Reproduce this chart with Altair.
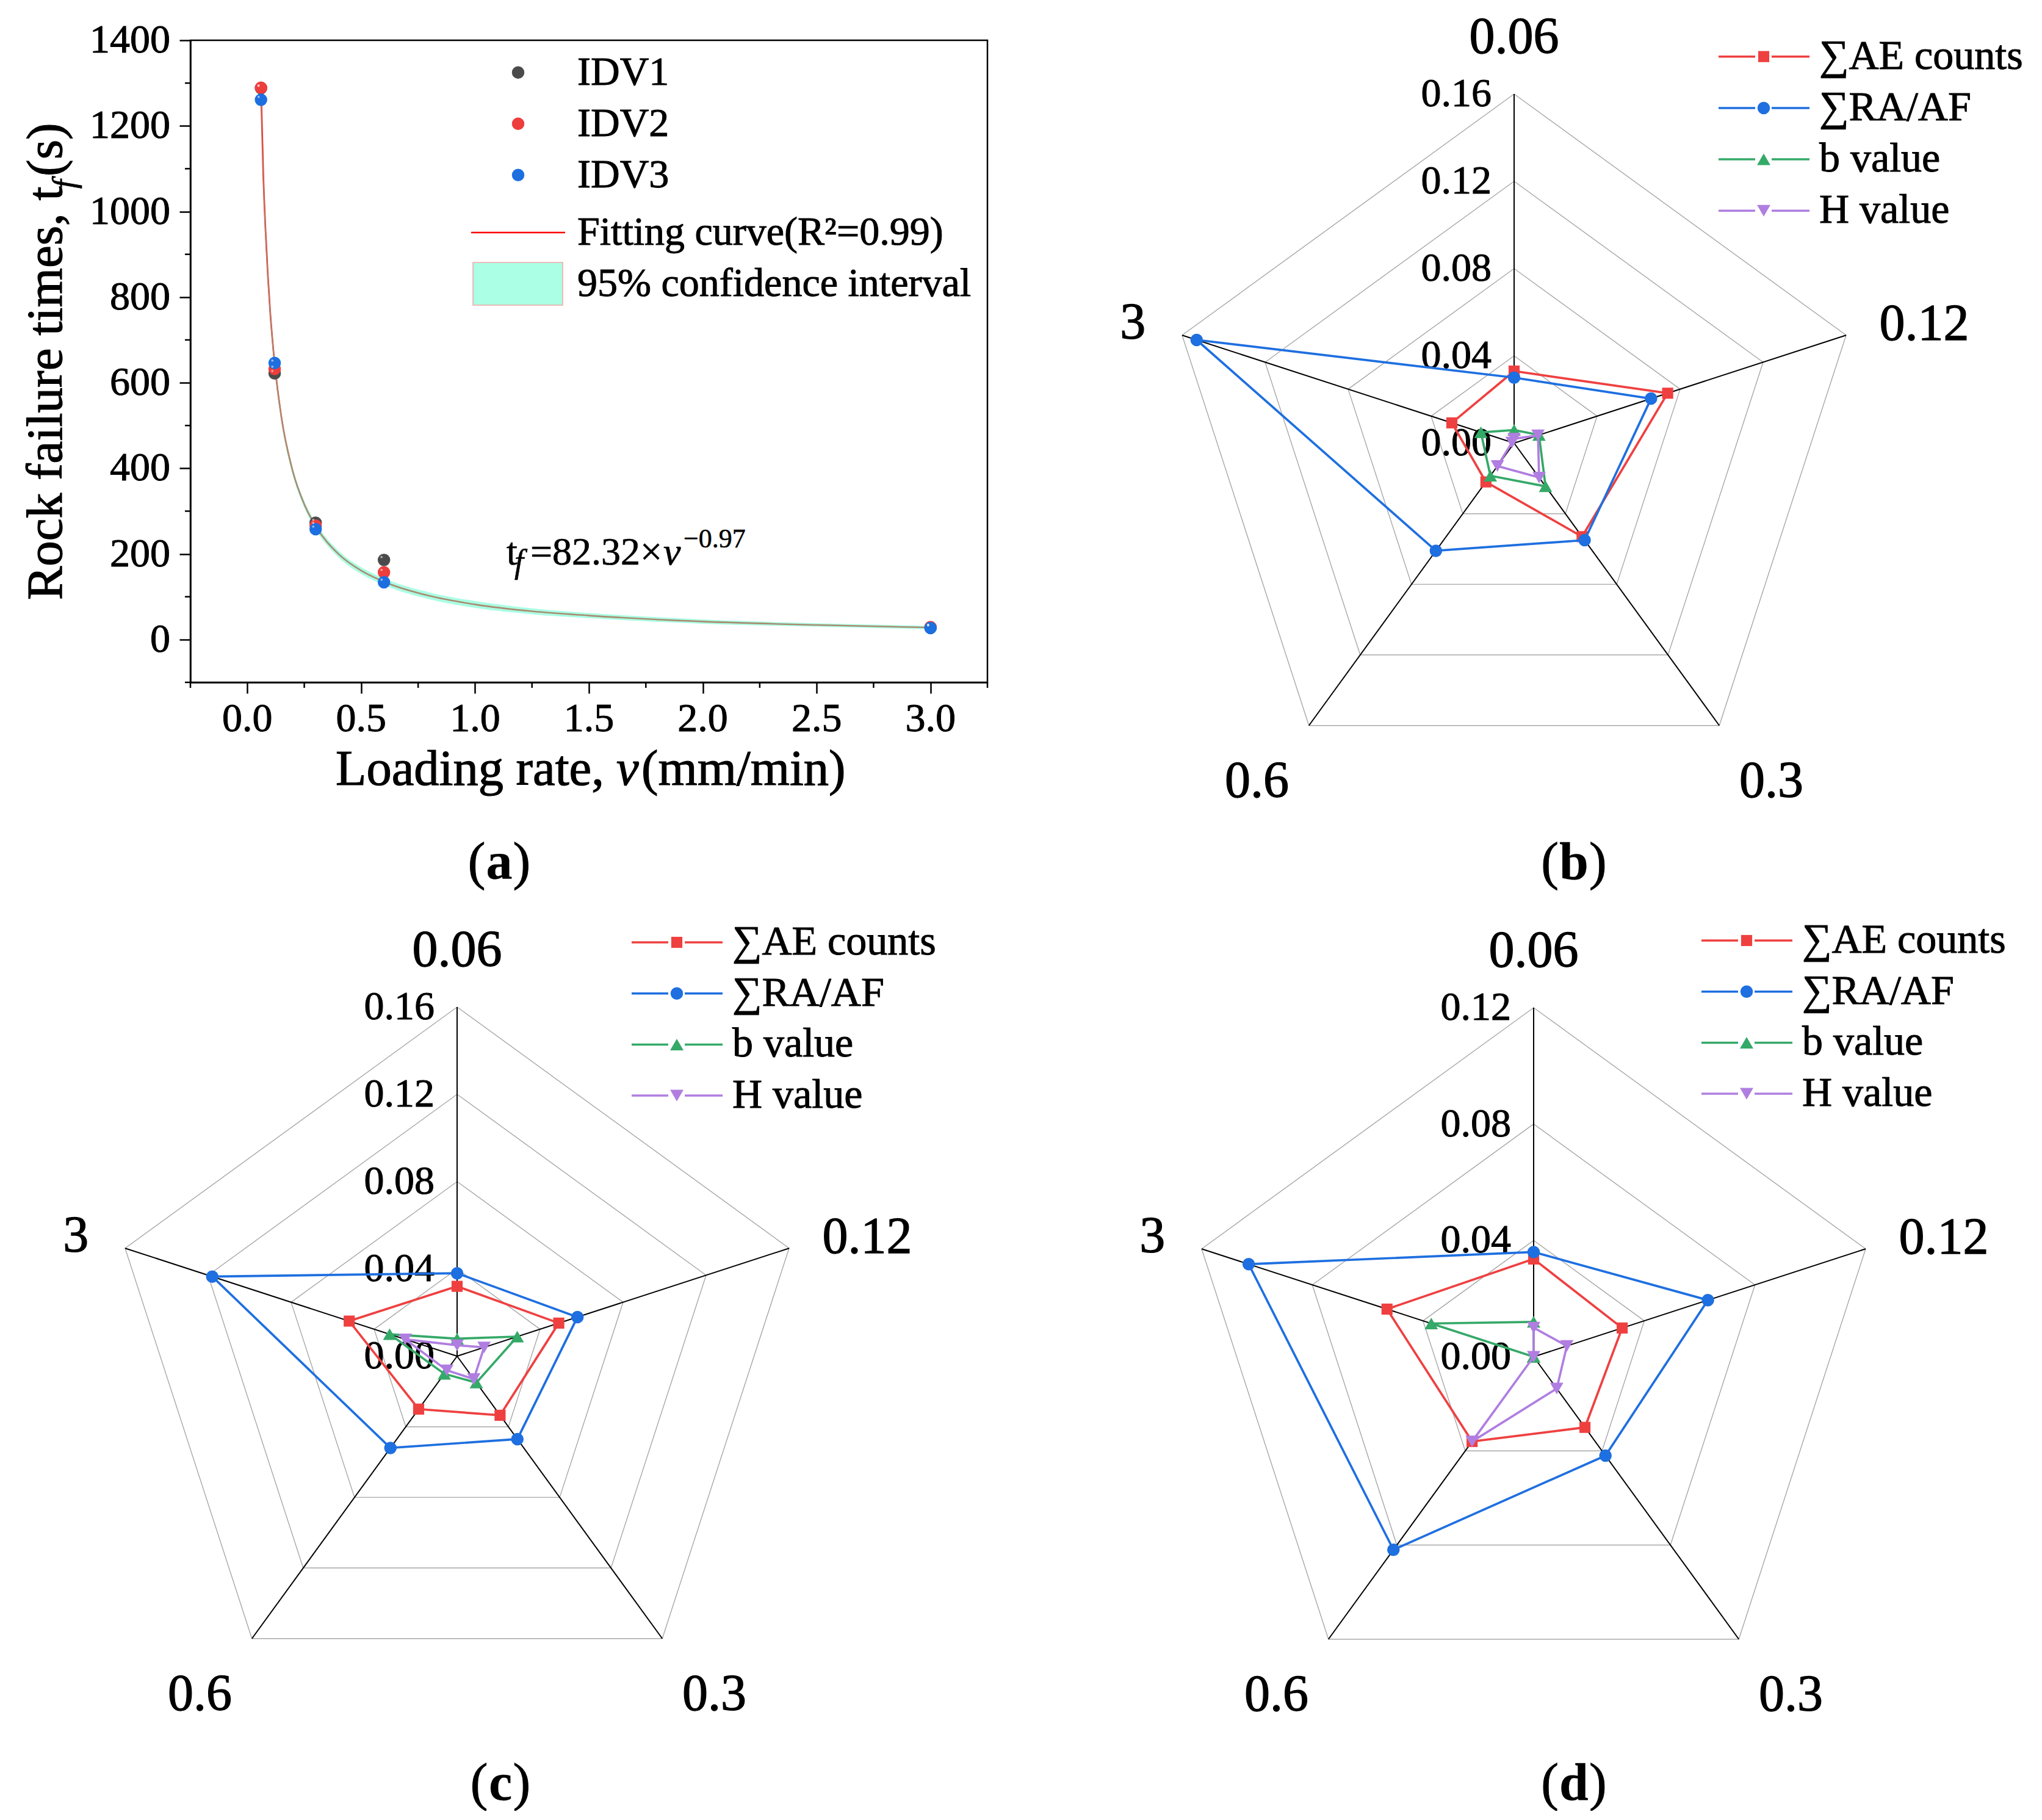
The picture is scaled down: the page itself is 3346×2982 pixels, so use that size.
import altair as alt
import pandas as pd

FONT = "Liberation Serif"

# ---------------- panel (a) data ----------------
loading_rate = [0.06, 0.12, 0.3, 0.6, 3.0]
idv1_time = [1288, 622, 273, 186, 28]
idv2_time = [1289, 632, 266, 157, 29]
idv3_time = [1261, 646, 258, 134, 27]
idv_names = ["IDV1", "IDV2", "IDV3"]
idv_colors = ["#4b4b4b", "#ee3d3d", "#1d6fe0"]

fit_rate = [0.06, 0.07, 0.08, 0.09, 0.10, 0.12, 0.15, 0.20, 0.25, 0.30,
            0.40, 0.50, 0.60, 0.80, 1.00, 1.25, 1.50, 2.00, 2.50, 3.00]
fit_time = [1285, 1086, 954, 851, 768, 644, 518, 392, 316, 265,
            200, 161, 135, 102, 82, 66, 56, 42, 34, 28]
ci_half = [40, 32, 26, 22, 19, 15, 12, 9, 8, 8, 8, 8, 8, 8, 8, 7, 6, 5, 4, 4]

x_major = [0.0, 0.5, 1.0, 1.5, 2.0, 2.5, 3.0]
x_minor = [-0.25, 0.25, 0.75, 1.25, 1.75, 2.25, 2.75, 3.25]
y_major = [0, 200, 400, 600, 800, 1000, 1200, 1400]
y_minor = [-100, 100, 300, 500, 700, 900, 1100, 1300]

# ---------------- radar data ----------------
categories = ["0.06", "0.12", "0.3", "0.6", "3"]
series_names = ["\u2211AE counts", "\u2211RA/AF", "b value", "H value"]
series_colors = ["#ef4040", "#1e6fe0", "#35a968", "#b07ee0"]
series_shapes = ["square", "circle", "triangle-up", "triangle-down"]
series_sizes = [330, 420, 480, 480]

b_ae = [0.033, 0.074, 0.053, 0.022, 0.030]
b_ra = [0.030, 0.066, 0.055, 0.061, 0.153]
b_bv = [0.006, 0.012, 0.0245, 0.0185, 0.016]
b_hv = [0.002, 0.0115, 0.0195, 0.013, 0.001]
b_ticks = [0.0, 0.04, 0.08, 0.12, 0.16]

c_ae = [0.032, 0.049, 0.0335, 0.030, 0.052]
c_ra = [0.038, 0.058, 0.047, 0.052, 0.118]
c_bv = [0.008, 0.029, 0.015, 0.010, 0.0325]
c_hv = [0.005, 0.013, 0.013, 0.008, 0.025]
c_ticks = [0.0, 0.04, 0.08, 0.12, 0.16]

d_ae = [0.0336, 0.032, 0.030, 0.036, 0.053]
d_ra = [0.036, 0.063, 0.042, 0.082, 0.103]
d_bv = [0.012, 0.0, 0.0, 0.0, 0.037]
d_hv = [0.010, 0.012, 0.0135, 0.036, 0.0]
d_ticks = [0.0, 0.04, 0.08, 0.12]

TEXT_STROKE = dict(stroke="black", strokeWidth=1.0)


def txt(s, x, y, size, sw=1.0, **kw):
    return alt.Chart(pd.DataFrame({"s": [s]})).mark_text(
        font=FONT, fontSize=size, color="black", stroke="black", strokeWidth=sw, **kw
    ).encode(text="s:N", x=alt.value(x), y=alt.value(y))


def letter_layers(letter, cx, by, w):
    return [
        txt("(", cx - w / 2, by, 86, sw=1.0, align="right", baseline="alphabetic"),
        txt(letter, cx, by, 86, sw=0.3, align="center", baseline="alphabetic", fontWeight="bold"),
        txt(")", cx + w / 2, by, 86, sw=1.0, align="left", baseline="alphabetic"),
    ]


# ---------------- panel (a) ----------------
WA, HA = 1306, 1052
XS = alt.Scale(domain=[-0.25, 3.25], nice=False, zero=False)
YS = alt.Scale(domain=[-100, 1400], nice=False, zero=False)
axis_style = dict(labels=False, tickColor="black", tickWidth=2.5, tickSize=18,
                  domainColor="black", domainWidth=2.5, grid=False, title=None)
XAX = alt.Axis(values=x_major, **axis_style)
YAX = alt.Axis(values=y_major, **axis_style)


def AX(f):
    return alt.X(f, type="quantitative", scale=XS, axis=XAX)


def AY(f):
    return alt.Y(f, type="quantitative", scale=YS, axis=YAX)


fit_df = pd.DataFrame({"v": fit_rate, "t": fit_time, "h": ci_half})
fit_line = alt.Chart(fit_df).mark_line(
    color="#ff0000", strokeWidth=2.6, interpolate="monotone"
).encode(x=AX("v"), y=AY("t"))
band = alt.Chart(fit_df).transform_calculate(
    lo="datum.t - datum.h", hi="datum.t + datum.h"
).mark_area(color="#64ffce", opacity=0.55, interpolate="monotone").encode(
    x=AX("v"), y=AY("lo"), y2=alt.Y2("hi:Q")
)

idv_rows = []
for name, times in zip(idv_names, [idv1_time, idv2_time, idv3_time]):
    for v, t in zip(loading_rate, times):
        idv_rows.append({"series": name, "v": v, "t": t})
pts_df = pd.DataFrame(idv_rows)
COL = alt.Color("series:N", scale=alt.Scale(domain=idv_names, range=idv_colors), legend=None)
pts = alt.Chart(pts_df).mark_circle(size=420, opacity=1).encode(x=AX("v"), y=AY("t"), color=COL)
shine = alt.Chart(pts_df).mark_text(
    text="\u25cf", fontSize=8, color="white", opacity=0.55, dx=-4, dy=-4
).encode(x=AX("v"), y=AY("t"))

xminor = alt.Chart(pd.DataFrame({"v": x_minor})).mark_rule(color="black", strokeWidth=2.5).encode(
    x=AX("v"), y=alt.value(HA), y2=alt.value(HA + 9))
yminor = alt.Chart(pd.DataFrame({"t": y_minor})).mark_rule(color="black", strokeWidth=2.5).encode(
    y=AY("t"), x=alt.value(0), x2=alt.value(-9))

# tick labels placed along the axes' scales
xlab = alt.Chart(pd.DataFrame({"v": x_major})).mark_text(
    font=FONT, fontSize=66, color="black", baseline="top", align="center", **TEXT_STROKE
).encode(x=AX("v"), y=alt.value(HA + 28), text=alt.Text("v:Q", format=".1f"))
ylab = alt.Chart(pd.DataFrame({"t": y_major})).mark_text(
    font=FONT, fontSize=66, color="black", baseline="middle", align="right", **TEXT_STROKE
).encode(y=AY("t"), x=alt.value(-33), text=alt.Text("t:Q", format="d"))

a_layers = [fit_line, band, xminor, yminor, xlab, ylab, pts, shine]

# legend of (a)
for k, name in enumerate(idv_names):
    yk = 52.7 + k * 84.0
    a_layers.append(
        alt.Chart(pd.DataFrame({"s": [name]})).mark_circle(
            size=420, opacity=1, color=idv_colors[k]
        ).encode(x=alt.value(537), y=alt.value(yk)))
    a_layers.append(txt(name, 634, yk, 66, align="left", baseline="middle"))
a_layers.append(
    alt.Chart(pd.DataFrame({"s": ["fit"]})).mark_rule(color="#ff0000", strokeWidth=2.6).encode(
        x=alt.value(460), x2=alt.value(614), y=alt.value(315)))
a_layers.append(txt("Fitting curve(R\u00b2=0.99)", 634, 315, 66, align="left", baseline="middle"))
a_layers.append(
    alt.Chart(pd.DataFrame({"s": ["ci"]})).mark_rect(
        fill="#aaffe4", stroke="#f2a6a6", strokeWidth=1.5
    ).encode(x=alt.value(463), x2=alt.value(610), y=alt.value(364), y2=alt.value(434)))
a_layers.append(txt("95% confidence interval", 634, 399, 66, align="left", baseline="middle"))

# equation
a_layers += [
    txt("t", 518, 859, 64, sw=0.7, align="left", baseline="alphabetic"),
    txt("f", 531, 872, 54, sw=0.6, align="left", baseline="alphabetic", fontStyle="italic"),
    txt("=82.32\u00d7", 557, 859, 64, sw=0.7, align="left", baseline="alphabetic"),
    txt("v", 775, 859, 64, sw=0.7, align="left", baseline="alphabetic", fontStyle="italic"),
    txt("\u22120.97", 808, 831, 44, sw=0.5, align="left", baseline="alphabetic"),
]

# axis titles
a_layers += [
    txt("Rock failure times, t", -211, 917, 83, sw=1.2, angle=270, align="left",
        baseline="alphabetic"),
    txt("f", -211, 917, 52, sw=0.8, angle=270, align="left", baseline="alphabetic", dx=674,
        dy=22, fontStyle="italic"),
    txt("(s)", -211, 917, 83, sw=1.2, angle=270, align="left", baseline="alphabetic", dx=694),
    txt("Loading rate, ", 238, 1220, 82.5, sw=1.2, align="left", baseline="alphabetic"),
    txt("v", 238, 1220, 82.5, sw=1.2, align="left", baseline="alphabetic", dx=460,
        fontStyle="italic"),
    txt("(mm/min)", 238, 1220, 82.5, sw=1.2, align="left", baseline="alphabetic", dx=501),
]
a_layers += letter_layers("a", 506, 1374, 45)

A = alt.layer(*a_layers).properties(
    width=WA, height=HA, view=alt.ViewBackground(stroke="black", strokeWidth=2.5)
)

# ---------------- radar panels ----------------
R = 572.0


def radar(vals, rmax, ticks, W, H, cx, cy, lx0, ly0, lsp, letter, lw, lab_x, lab_y):
    xs = alt.Scale(domain=[-cx / R, (W - cx) / R], nice=False, zero=False)
    ys = alt.Scale(domain=[-(H - cy) / R, cy / R], nice=False, zero=False)

    def X(f):
        return alt.X(f, type="quantitative", scale=xs, axis=None)

    def Y(f):
        return alt.Y(f, type="quantitative", scale=ys, axis=None)

    ANG = "(datum.idx * 2 * PI / 5)"
    layers = []
    ring_df = pd.DataFrame([{"level": t, "idx": i} for t in ticks[1:] for i in range(6)])
    layers.append(
        alt.Chart(ring_df).transform_calculate(
            px=f"datum.level / {rmax} * sin{ANG}", py=f"datum.level / {rmax} * cos{ANG}"
        ).mark_line(color="#a8a8a8", strokeWidth=1.4).encode(
            x=X("px"), y=Y("py"), detail="level:N", order=alt.Order("idx:Q")))
    spoke_df = pd.DataFrame({"idx": list(range(5))})
    layers.append(
        alt.Chart(spoke_df).transform_calculate(
            px=f"sin{ANG}", py=f"cos{ANG}", zero="0"
        ).mark_rule(color="black", strokeWidth=2).encode(
            x=X("zero"), x2=alt.X2("px:Q"), y=Y("zero"), y2=alt.Y2("py:Q")))
    tick_df = pd.DataFrame({"tick": ticks})
    layers.append(
        alt.Chart(tick_df).transform_calculate(
            py=f"datum.tick / {rmax}", zero="0"
        ).mark_text(font=FONT, fontSize=66, align="right", baseline="middle", dx=-37,
                    color="black", **TEXT_STROKE).encode(
            x=X("zero"), y=Y("py"), text=alt.Text("tick:Q", format=".2f")))

    for k in range(len(series_names)):
        df = pd.DataFrame({"idx": list(range(6)), "value": vals[k] + vals[k][:1]})
        base = alt.Chart(df).transform_calculate(
            px=f"datum.value / {rmax} * sin{ANG}", py=f"datum.value / {rmax} * cos{ANG}")
        layers.append(base.mark_line(color=series_colors[k], strokeWidth=3.7).encode(
            x=X("px"), y=Y("py"), order=alt.Order("idx:Q")))
        layers.append(base.transform_filter("datum.idx < 5").mark_point(
            filled=True, shape=series_shapes[k], size=series_sizes[k], color=series_colors[k],
            opacity=1, strokeWidth=0).encode(x=X("px"), y=Y("py")))

    cat_df = pd.DataFrame({"cat": categories, "idx": list(range(5))})

    def cat_layer(filt, r, xf, align):
        return alt.Chart(cat_df).transform_filter(filt).transform_calculate(
            px=f"{r} * {xf} * sin{ANG}", py=f"{r} * cos{ANG}"
        ).mark_text(font=FONT, fontSize=84, align=align, baseline="middle",
                    color="black", stroke="black", strokeWidth=1.3).encode(
            x=X("px"), y=Y("py"), text="cat:N")

    layers += [
        cat_layer("datum.idx == 0", 1.16, 1, "center"),
        cat_layer("datum.idx == 1", 1.10, 1, "left"),
        cat_layer("datum.idx == 4", 1.11, 1, "right"),
        cat_layer("datum.idx == 2 || datum.idx == 3", 1.2, 1.045, "center"),
    ]

    for k, name in enumerate(series_names):
        yk = ly0 + k * lsp
        one = alt.Chart(pd.DataFrame({"s": [name]}))
        layers.append(one.mark_rule(color=series_colors[k], strokeWidth=3.5).encode(
            x=alt.value(lx0), x2=alt.value(lx0 + 60), y=alt.value(yk)))
        layers.append(one.mark_rule(color=series_colors[k], strokeWidth=3.5).encode(
            x=alt.value(lx0 + 87), x2=alt.value(lx0 + 149), y=alt.value(yk)))
        layers.append(one.mark_point(
            filled=True, shape=series_shapes[k], size=series_sizes[k], color=series_colors[k],
            opacity=1, strokeWidth=0).encode(x=alt.value(lx0 + 74), y=alt.value(yk)))
        layers.append(txt(name, lx0 + 165, yk, 68, align="left", baseline="middle"))

    layers += letter_layers(letter, lab_x, lab_y, lw)
    return alt.layer(*layers).properties(width=W, height=H)


B = radar([b_ae, b_ra, b_bv, b_hv], 0.16, b_ticks, 1710, 1400, 863, 660,
          1198, 26.7, 84.2, "b", 50, 961, 1374)
C = radar([c_ae, c_ra, c_bv, c_hv], 0.16, c_ticks, 1306, 1450, 437, 756,
          723, 78, 83.7, "c", 41, 508, 1483)
D = radar([d_ae, d_ra, d_bv, d_hv], 0.12, d_ticks, 1710, 1450, 895, 757,
          1170, 75, 83.7, "d", 50, 961, 1483)

chart = alt.concat(A, B, C, D, columns=2, spacing=0, bounds="flush").properties(
    padding={"left": 25, "top": 11, "right": 0, "bottom": 0}
).configure_view(stroke="transparent")

chart.save("out.html", embed_options={"renderer": "svg", "actions": False})
